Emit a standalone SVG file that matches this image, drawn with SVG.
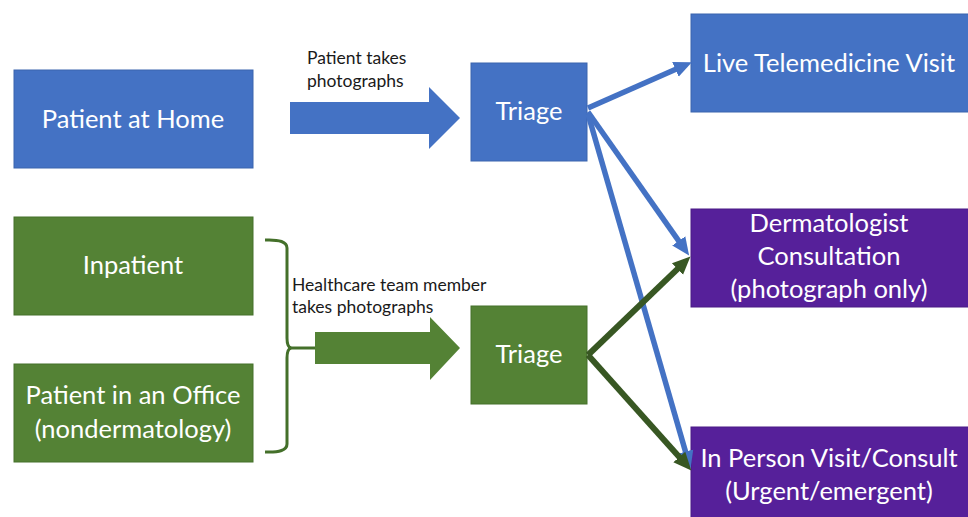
<svg xmlns="http://www.w3.org/2000/svg" width="968" height="517" viewBox="0 0 968 517">
  <style>
    .blue { fill: #4472C4; stroke: #3A64AE; stroke-width: 1; }
    .green { fill: #548235; stroke: #44702A; stroke-width: 1; }
    .purple { fill: #56209A; stroke: #4A1A85; stroke-width: 1; }
    .node-text { font-family: Lato, "Open Sans", sans-serif; font-size: 25.5px; fill: #FFFFFF; text-anchor: middle; }
    .label { font-family: Lato, "Open Sans", sans-serif; font-size: 17.5px; fill: #1A1A1A; }
    .link-blue { stroke: #4472C4; stroke-width: 5.5; fill: none; }
    .link-green { stroke: #385723; stroke-width: 6; fill: none; }
  </style>
  <defs>
    <marker id="head-blue" markerUnits="userSpaceOnUse" markerWidth="19" markerHeight="18" refX="6" refY="9" orient="auto">
      <path d="M0,1 L18,9 L0,17 z" fill="#4472C4"/>
    </marker>
    <marker id="head-green" markerUnits="userSpaceOnUse" markerWidth="19" markerHeight="18" refX="6" refY="9" orient="auto">
      <path d="M0,1 L18,9 L0,17 z" fill="#385723"/>
    </marker>
  </defs>
  <rect width="968" height="517" fill="#FFFFFF"/>

  <!-- Sources -->
  <g id="patient-home">
    <rect class="blue" x="14" y="70" width="239" height="98"/>
    <text class="node-text" x="133" y="128">Patient at Home</text>
  </g>
  <g id="inpatient">
    <rect class="green" x="14" y="217" width="239" height="98"/>
    <text class="node-text" x="133" y="274">Inpatient</text>
  </g>
  <g id="patient-office">
    <rect class="green" x="14" y="364" width="239" height="98"/>
    <text class="node-text" x="133" y="404">Patient in an Office</text>
    <text class="node-text" x="133" y="438">(nondermatology)</text>
  </g>

  <!-- Brace grouping the in-care sources -->
  <g id="brace">
    <path d="M265,240 Q287,239 287,248 L287,338 Q287,347 291,348 Q287,349 287,358 L287,444 Q287,453 265,452" fill="none" stroke="#44702A" stroke-width="3"/>
    <line x1="289" y1="348" x2="318" y2="348" stroke="#44702A" stroke-width="3"/>
  </g>

  <!-- Block arrows with their labels -->
  <g id="photo-home">
    <polygon fill="#4472C4" points="290,102 429,102 429,87 460,118 429,149 429,134 290,134"/>
    <text class="label" x="307" y="64">Patient takes</text>
    <text class="label" x="307" y="87">photographs</text>
  </g>
  <g id="photo-team">
    <polygon fill="#548235" points="315,332 430,332 430,317 460,348 430,380 430,364 315,364"/>
    <text class="label" x="292" y="291">Healthcare team member</text>
    <text class="label" x="292" y="313">takes photographs</text>
  </g>

  <!-- Triage -->
  <g id="triage-home">
    <rect class="blue" x="471" y="63" width="116" height="98"/>
    <text class="node-text" x="529" y="120">Triage</text>
  </g>
  <g id="triage-team">
    <rect class="green" x="471" y="306" width="116" height="98"/>
    <text class="node-text" x="529" y="363">Triage</text>
  </g>

  <!-- Outcomes -->
  <g id="live-telemedicine">
    <rect class="blue" x="691" y="14" width="290" height="98"/>
    <text class="node-text" x="829" y="72">Live Telemedicine Visit</text>
  </g>
  <g id="derm-consult">
    <rect class="purple" x="691" y="209" width="290" height="98"/>
    <text class="node-text" x="829" y="232">Dermatologist</text>
    <text class="node-text" x="829" y="265">Consultation</text>
    <text class="node-text" x="829" y="298">(photograph only)</text>
  </g>
  <g id="in-person">
    <rect class="purple" x="691" y="427" width="290" height="100"/>
    <text class="node-text" x="829" y="467">In Person Visit/Consult</text>
    <text class="node-text" x="829" y="500">(Urgent/emergent)</text>
  </g>

  <!-- Connectors -->
  <g id="connectors">
    <line class="link-blue" x1="588" y1="108" x2="680.9" y2="67.0" marker-end="url(#head-blue)"/>
    <line class="link-blue" x1="588" y1="112" x2="682.2" y2="245.8" marker-end="url(#head-blue)"/>
    <line class="link-blue" x1="588" y1="114" x2="687.2" y2="457.4" marker-end="url(#head-blue)"/>
    <line class="link-green" x1="588" y1="355" x2="681.8" y2="264.9" marker-end="url(#head-green)"/>
    <line class="link-green" x1="588" y1="355" x2="683.3" y2="461.5" marker-end="url(#head-green)"/>
  </g>
</svg>
